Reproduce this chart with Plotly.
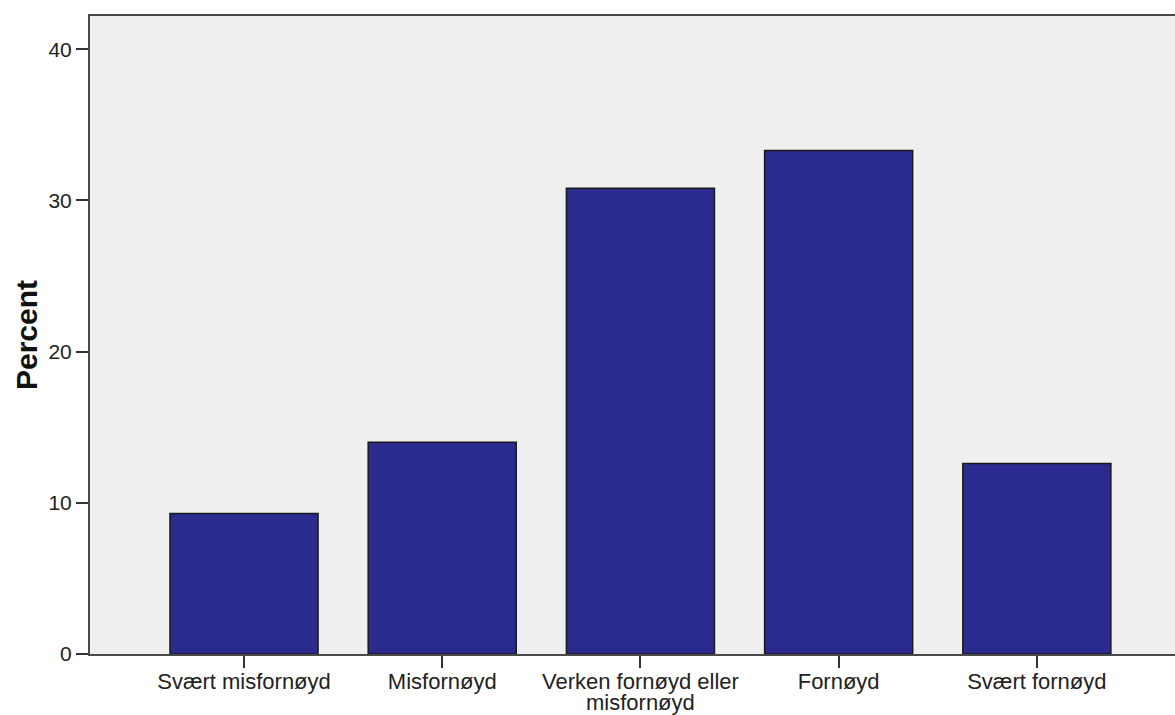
import plotly.graph_objects as go

categories = ["Svært misfornøyd", "Misfornøyd", "Verken fornøyd eller\nmisfornøyd", "Fornøyd", "Svært fornøyd"]
percent = [9.3, 14.0, 30.8, 33.3, 12.6]
y_ticks = [0, 10, 20, 30, 40]

x_pos = list(range(len(categories)))
first_lines = [c.split("\n")[0] for c in categories]

fig = go.Figure(
    go.Bar(
        x=x_pos,
        y=percent,
        marker=dict(color="#2a2a8f", line=dict(color="#1a1a1a", width=1.5)),
    )
)

# second lines of wrapped labels, with tighter line spacing than Plotly's default
for i, c in enumerate(categories):
    parts = c.split("\n")
    if len(parts) > 1:
        fig.add_annotation(
            x=i, xref="x", y=0, yref="paper",
            yshift=-48, text=parts[1], showarrow=False,
            yanchor="middle", font=dict(size=22, color="#222222"),
        )

fig.update_layout(
    width=1175,
    height=715,
    margin=dict(l=90, r=0, t=16, b=61),
    paper_bgcolor="white",
    plot_bgcolor="#efefef",
    bargap=0.253,
    showlegend=False,
    font=dict(family="Liberation Sans, Arial, sans-serif", color="#222222"),
)

fig.update_xaxes(
    range=[-0.777, 4.697],
    tickmode="array",
    tickvals=x_pos,
    ticktext=first_lines,
    tickfont=dict(size=22),
    ticks="outside",
    ticklen=12,
    tickwidth=2,
    tickcolor="#333333",
    ticklabelstandoff=-5,
    showline=True,
    linecolor="#4a4a4a",
    linewidth=2,
    mirror=True,
    showgrid=False,
    zeroline=False,
)

fig.update_yaxes(
    range=[0, 42.2],
    tickmode="array",
    tickvals=y_ticks,
    tickfont=dict(size=21),
    ticks="outside",
    ticklen=12,
    tickwidth=2,
    tickcolor="#333333",
    showline=True,
    linecolor="#4a4a4a",
    linewidth=2,
    showgrid=False,
    zeroline=False,
    title=dict(text="<b>Percent</b>", font=dict(size=30, color="#111111"), standoff=2),
)

fig.write_html(
    "out.html",
    config={"displayModeBar": False},
    post_script="document.body.style.margin='0';",
)
